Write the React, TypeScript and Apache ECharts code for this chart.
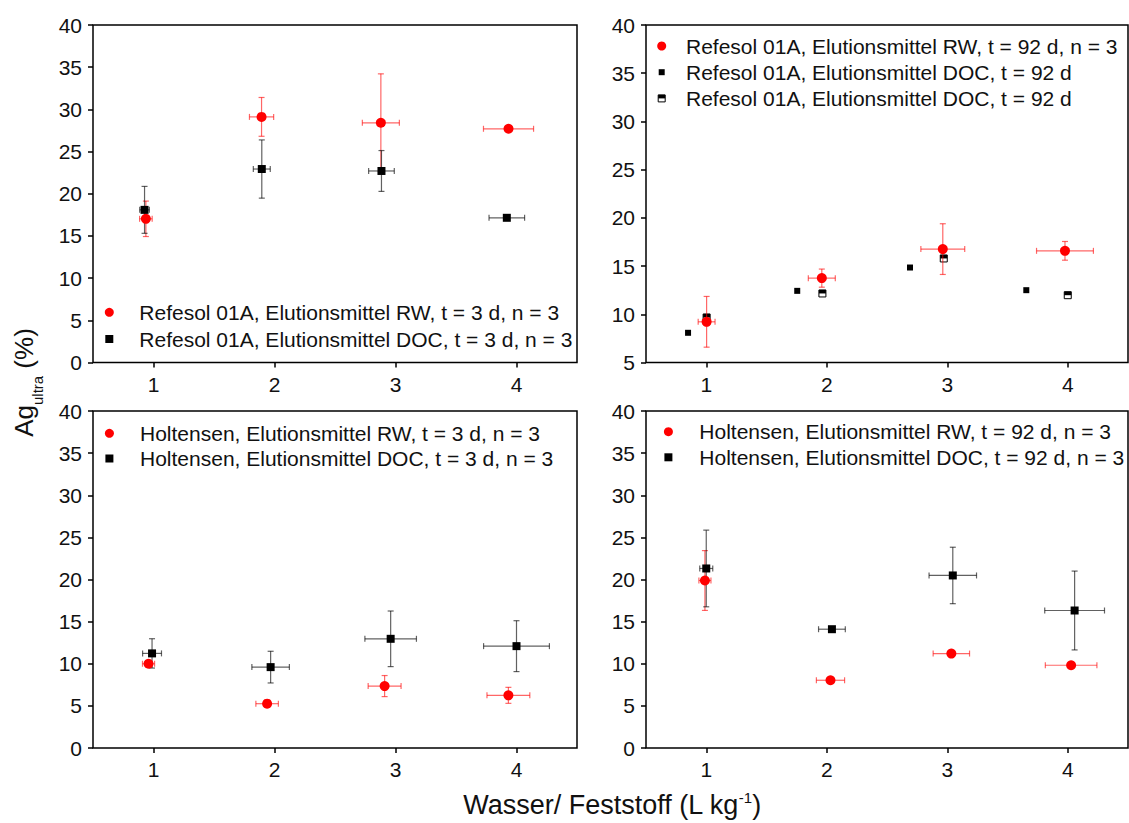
import React, { useEffect, useRef } from 'react';
import * as echarts from 'echarts';

const FONT = "'Liberation Sans', Arial, 'Noto Sans', sans-serif";

const xTicks = [1, 2, 3, 4];

// Top-left: Refesol 01A, t = 3 d
const tlRwX = [0.937, 1.893, 2.879, 3.934];
const tlRwY = [17.03, 29.11, 28.41, 27.7];
const tlRwXErr = [0.052, 0.1, 0.153, 0.207];
const tlRwYErr = [2.1, 2.3, 5.8, 0.2];
const tlDocX = [0.926, 1.895, 2.884, 3.92];
const tlDocY = [18.09, 22.93, 22.7, 17.15];
const tlDocXErr = [0.04, 0.07, 0.106, 0.147];
const tlDocYErr = [2.78, 3.45, 2.42, 0.2];
const tlLabels = [
  'Refesol 01A, Elutionsmittel RW, t = 3 d, n = 3',
  'Refesol 01A, Elutionsmittel DOC, t = 3 d, n = 3',
];

// Top-right: Refesol 01A, t = 92 d
const trRwX = [1.003, 1.959, 2.963, 3.977];
const trRwY = [9.22, 13.75, 16.76, 16.58];
const trRwXErr = [0.07, 0.112, 0.182, 0.236];
const trRwYErr = [2.63, 0.94, 2.63, 0.97];
const trDocAX = [0.849, 1.755, 2.691, 3.656];
const trDocAY = [8.08, 12.43, 14.85, 12.5];
const trDocBX = [1.003, 1.964, 2.971, 4.0];
const trDocBY = [9.67, 12.16, 15.79, 11.98];
const trLabels = [
  'Refesol 01A, Elutionsmittel RW, t = 92 d, n = 3',
  'Refesol 01A, Elutionsmittel DOC, t = 92 d',
  'Refesol 01A, Elutionsmittel DOC, t = 92 d',
];

// Bottom-left: Holtensen, t = 3 d
const blRwX = [0.959, 1.939, 2.91, 3.933];
const blRwY = [10.0, 5.26, 7.35, 6.25];
const blRwXErr = [0.05, 0.093, 0.136, 0.177];
const blRwYErr = [0.4, 0.4, 1.25, 0.95];
const blDocX = [0.988, 1.968, 2.96, 4.0];
const blDocY = [11.23, 9.6, 12.96, 12.09];
const blDocXErr = [0.078, 0.155, 0.213, 0.272];
const blDocYErr = [1.74, 1.88, 3.3, 3.02];
const blLabels = [
  'Holtensen, Elutionsmittel RW, t = 3 d, n = 3',
  'Holtensen, Elutionsmittel DOC, t = 3 d, n = 3',
];

// Bottom-right: Holtensen, t = 92 d
const brRwX = [0.989, 2.031, 3.034, 4.028];
const brRwY = [19.88, 8.04, 11.21, 9.82];
const brRwXErr = [0.05, 0.117, 0.151, 0.214];
const brRwYErr = [3.55, 0.3, 0.3, 0.3];
const brDocX = [1.0, 2.043, 3.046, 4.057];
const brDocY = [21.31, 14.1, 20.48, 16.32];
const brDocXErr = [0.054, 0.111, 0.197, 0.248];
const brDocYErr = [4.55, 0.3, 3.35, 4.68];
const brLabels = [
  'Holtensen, Elutionsmittel RW, t = 92 d, n = 3',
  'Holtensen, Elutionsmittel DOC, t = 92 d, n = 3',
];

const yMins = [0, 5, 0, 0];
const yMax = 40;
const yStep = 5;

const xTitle = ['Wasser/ Feststoff (L kg', '-1', ')'];
const yTitle = ['Ag', 'ultra', ' (%)'];

const RED = '#ff0000';
const RED_ERR = 'rgba(255,0,0,0.6)';
const BLACK = '#000000';
const BLACK_ERR = 'rgba(0,0,0,0.62)';

const pts = (x: number[], y: number[]) => x.map((v, i) => [v, y[i]]);
const errs = (x: number[], y: number[], xe: number[], ye: number[]) =>
  x.map((v, i) => [v, y[i], xe[i], ye[i]]);

const errRender = (color: string) => (params: any, api: any) => {
  const x = api.value(0);
  const y = api.value(1);
  const xe = api.value(2);
  const ye = api.value(3);
  const cap = 3;
  const style = { stroke: color, lineWidth: 1.2, fill: null };
  const children: any[] = [];
  if (xe > 0) {
    const l = api.coord([x - xe, y]);
    const r = api.coord([x + xe, y]);
    children.push({ type: 'line', shape: { x1: l[0], y1: l[1], x2: r[0], y2: r[1] }, style });
    children.push({ type: 'line', shape: { x1: l[0], y1: l[1] - cap, x2: l[0], y2: l[1] + cap }, style });
    children.push({ type: 'line', shape: { x1: r[0], y1: r[1] - cap, x2: r[0], y2: r[1] + cap }, style });
  }
  if (ye > 0) {
    const t = api.coord([x, y + ye]);
    const b = api.coord([x, y - ye]);
    children.push({ type: 'line', shape: { x1: t[0], y1: t[1], x2: b[0], y2: b[1] }, style });
    children.push({ type: 'line', shape: { x1: t[0] - cap, y1: t[1], x2: t[0] + cap, y2: t[1] }, style });
    children.push({ type: 'line', shape: { x1: b[0] - cap, y1: b[1], x2: b[0] + cap, y2: b[1] }, style });
  }
  return { type: 'group', children };
};

const halfRender = (params: any, api: any) => {
  const c = api.coord([api.value(0), api.value(1)]);
  const s = 7;
  return {
    type: 'group',
    children: [
      { type: 'rect', shape: { x: c[0] - s / 2, y: c[1] - s / 2, width: s, height: s }, style: { fill: '#fff', stroke: '#000', lineWidth: 1 } },
      { type: 'rect', shape: { x: c[0] - s / 2, y: c[1] - s / 2, width: s, height: s / 2 }, style: { fill: '#000' } },
    ],
  };
};

const errSeries = (idx: number, data: number[][], color: string) => ({
  type: 'custom',
  xAxisIndex: idx,
  yAxisIndex: idx,
  renderItem: errRender(color),
  data,
  encode: { x: 0, y: 1 },
  silent: true,
  clip: false,
  z: 2,
});

const markSeries = (idx: number, data: number[][], symbol: string, size: number, color: string) => ({
  type: 'scatter',
  xAxisIndex: idx,
  yAxisIndex: idx,
  data,
  symbol,
  symbolSize: size,
  itemStyle: { color, opacity: 1 },
  silent: true,
  z: 2,
});

const grids = [
  { left: 93, top: 25, width: 484, height: 337.5 },
  { left: 646, top: 25, width: 482, height: 337.5 },
  { left: 93, top: 411, width: 484, height: 337 },
  { left: 646, top: 411, width: 482, height: 337 },
];

const legendBlock = (
  labels: string[],
  markers: string[],
  mx: number,
  tx: number,
  y0: number,
  gap: number
) => {
  const els: any[] = [];
  labels.forEach((lab, i) => {
    const cy = y0 + i * gap;
    const m = markers[i];
    if (m === 'circle') {
      els.push({ type: 'circle', shape: { cx: mx, cy, r: 4.5 }, style: { fill: RED } });
    } else if (m === 'square') {
      els.push({ type: 'rect', shape: { x: mx - 4, y: cy - 4, width: 8, height: 8 }, style: { fill: BLACK } });
    } else if (m === 'small') {
      els.push({ type: 'rect', shape: { x: mx - 3, y: cy - 3, width: 6, height: 6 }, style: { fill: BLACK } });
    } else {
      els.push({ type: 'rect', shape: { x: mx - 3.5, y: cy - 3.5, width: 7, height: 7 }, style: { fill: '#fff', stroke: BLACK, lineWidth: 1 } });
      els.push({ type: 'rect', shape: { x: mx - 3.5, y: cy - 3.5, width: 7, height: 3.5 }, style: { fill: BLACK } });
    }
    els.push({
      type: 'text',
      x: tx,
      y: cy,
      style: { text: lab, fontSize: 21, fontFamily: FONT, fill: '#111', align: 'left', verticalAlign: 'middle' },
    });
  });
  return els;
};

export default function App() {
  const ref = useRef<HTMLDivElement>(null);

  useEffect(() => {
    document.body.style.margin = '0';
    if (!ref.current) return;
    const chart = echarts.init(ref.current, null, { renderer: 'svg' });

    const xAxes = grids.map((_, i) => ({
      type: 'value',
      gridIndex: i,
      min: 0.5,
      max: 4.5,
      axisLine: { show: false, onZero: false },
      axisTick: { show: true, length: 5, customValues: xTicks, lineStyle: { color: '#000', width: 1.5 } },
      axisLabel: { customValues: xTicks, margin: 11, fontSize: 21, color: '#111', fontFamily: FONT },
      splitLine: { show: false },
    }));

    const yAxes = grids.map((_, i) => ({
      type: 'value',
      gridIndex: i,
      min: yMins[i],
      max: yMax,
      interval: yStep,
      axisLine: { show: false, onZero: false },
      axisTick: { show: true, length: 5, lineStyle: { color: '#000', width: 1.5 } },
      axisLabel: { margin: 11, fontSize: 21, color: '#111', fontFamily: FONT },
      splitLine: { show: false },
    }));

    const series: any[] = [
      // top-left
      errSeries(0, errs(tlRwX, tlRwY, tlRwXErr, tlRwYErr), RED_ERR),
      markSeries(0, pts(tlRwX, tlRwY), 'circle', 10, RED),
      errSeries(0, errs(tlDocX, tlDocY, tlDocXErr, tlDocYErr), BLACK_ERR),
      markSeries(0, pts(tlDocX, tlDocY), 'rect', 8, BLACK),
      // top-right
      markSeries(1, pts(trDocAX, trDocAY), 'rect', 6, BLACK),
      {
        type: 'custom',
        xAxisIndex: 1,
        yAxisIndex: 1,
        renderItem: halfRender,
        data: pts(trDocBX, trDocBY),
        encode: { x: 0, y: 1 },
        silent: true,
        z: 2,
      },
      errSeries(1, errs(trRwX, trRwY, trRwXErr, trRwYErr), RED_ERR),
      markSeries(1, pts(trRwX, trRwY), 'circle', 10, RED),
      // bottom-left
      errSeries(2, errs(blRwX, blRwY, blRwXErr, blRwYErr), RED_ERR),
      markSeries(2, pts(blRwX, blRwY), 'circle', 10, RED),
      errSeries(2, errs(blDocX, blDocY, blDocXErr, blDocYErr), BLACK_ERR),
      markSeries(2, pts(blDocX, blDocY), 'rect', 8, BLACK),
      // bottom-right
      errSeries(3, errs(brRwX, brRwY, brRwXErr, brRwYErr), RED_ERR),
      markSeries(3, pts(brRwX, brRwY), 'circle', 10, RED),
      errSeries(3, errs(brDocX, brDocY, brDocXErr, brDocYErr), BLACK_ERR),
      markSeries(3, pts(brDocX, brDocY), 'rect', 8, BLACK),
    ];

    const graphic: any[] = [
      ...legendBlock(tlLabels, ['circle', 'square'], 109.3, 139.3, 312.3, 26.7),
      ...legendBlock(trLabels, ['circle', 'small', 'half'], 661.7, 686, 46, 26.2),
      ...legendBlock(blLabels, ['circle', 'square'], 109.4, 140, 433.3, 25.2),
      ...legendBlock(brLabels, ['circle', 'square'], 668.4, 699.3, 431.7, 25.6),
      {
        type: 'text',
        x: 24,
        y: 382.5,
        rotation: Math.PI / 2,
        style: {
          text: `{m|${yTitle[0]}}{s|${yTitle[1]}}{m|${yTitle[2]}}`,
          align: 'center',
          verticalAlign: 'middle',
          rich: {
            m: { fontSize: 26, lineHeight: 42, fontFamily: FONT, fill: '#111' },
            s: { fontSize: 15, lineHeight: 15, fontFamily: FONT, fill: '#111', verticalAlign: 'bottom' },
          },
        },
      },
      {
        type: 'text',
        x: 612,
        y: 805,
        style: {
          text: `{m|${xTitle[0]}}{p|${xTitle[1]}}{m|${xTitle[2]}}`,
          align: 'center',
          verticalAlign: 'middle',
          rich: {
            m: { fontSize: 27, lineHeight: 30, fontFamily: FONT, fill: '#111' },
            p: { fontSize: 15, lineHeight: 15, fontFamily: FONT, fill: '#111', verticalAlign: 'top' },
          },
        },
      },
    ];

    chart.setOption({
      animation: false,
      backgroundColor: '#fff',
      grid: grids.map((g) => ({ ...g, show: true, borderColor: '#000', borderWidth: 1.5, backgroundColor: 'transparent' })),
      xAxis: xAxes,
      yAxis: yAxes,
      series,
      graphic,
    });

    return () => chart.dispose();
  }, []);

  return <div ref={ref} style={{ width: 1129, height: 823 }} />;
}
